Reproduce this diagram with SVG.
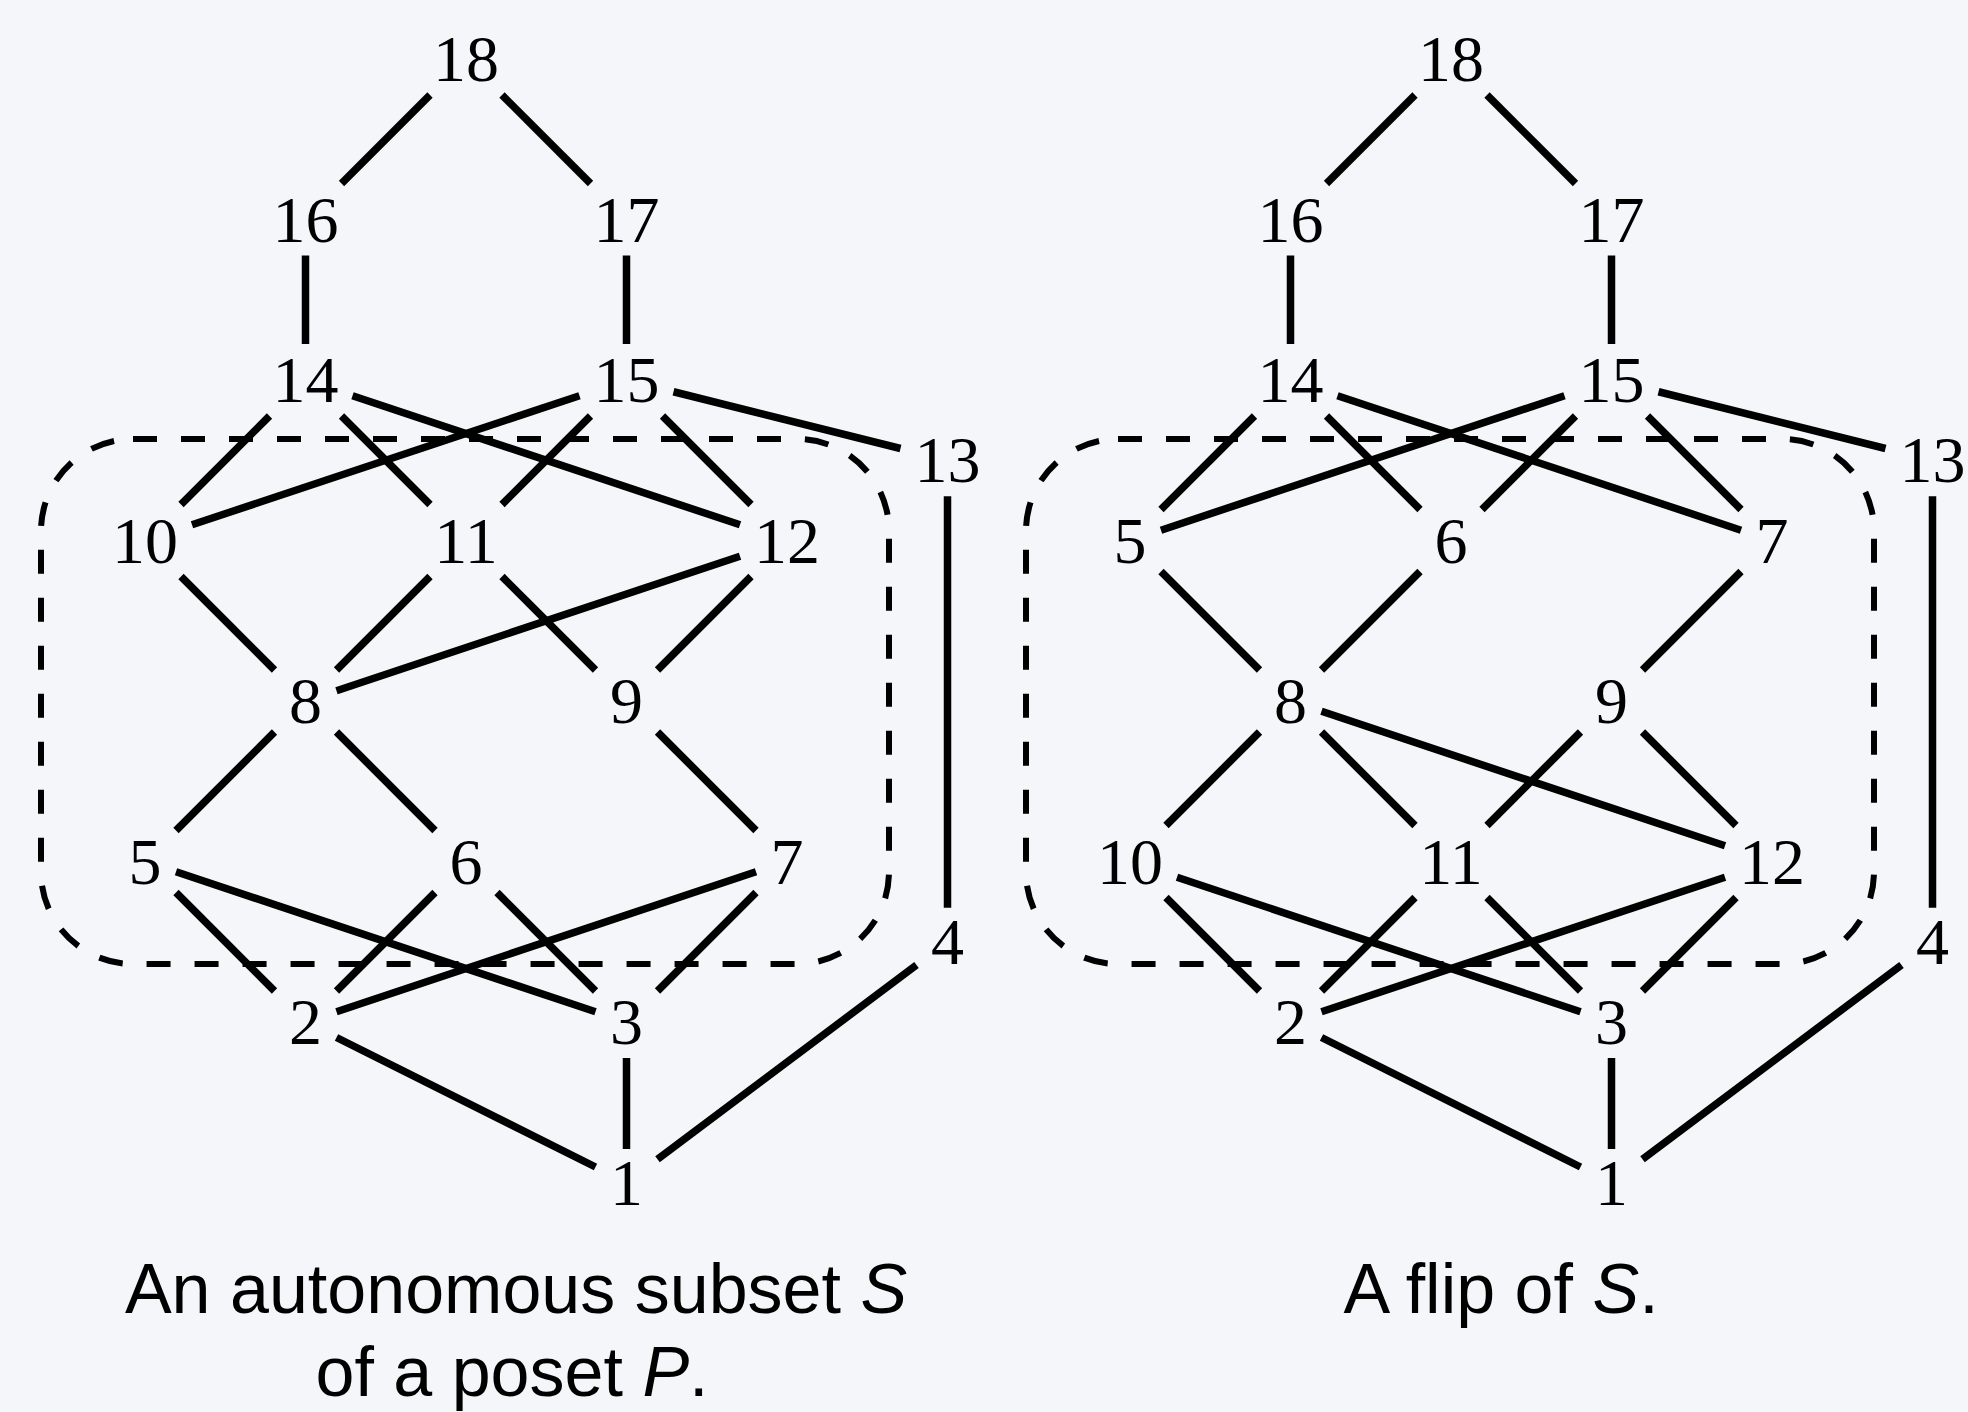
<svg xmlns="http://www.w3.org/2000/svg" width="1968" height="1412" viewBox="0 0 1968 1412">
<style>
.bg{fill:#f5f6fa}
.e line{stroke:#000;stroke-width:7.5;stroke-linecap:butt}
.box{fill:none;stroke:#000;stroke-width:6;stroke-dasharray:24 24}
.n text{font-family:"Liberation Serif","Times New Roman",serif;font-size:66px;text-anchor:middle;fill:#000}
.cap{font-family:"Liberation Sans",Arial,sans-serif;font-size:70px;text-anchor:middle;fill:#000}
</style>
<rect class="bg" x="0" y="0" width="1968" height="1412"/>

<!-- LEFT DIAGRAM -->
<g id="left">
<rect class="box" x="41" y="439" width="848" height="525" rx="92" ry="92"/>
<g id="left-edges" class="e">
<line x1="430" y1="95" x2="341.5" y2="183.5"/>
<line x1="502" y1="95" x2="590.5" y2="183.5"/>
<line x1="305.5" y1="255.5" x2="305.5" y2="344"/>
<line x1="626.5" y1="255.5" x2="626.5" y2="344"/>
<line x1="269.5" y1="416" x2="181" y2="504.5"/>
<line x1="341.5" y1="416" x2="430" y2="504.5"/>
<line x1="352.5" y1="395.7" x2="740" y2="524.8"/>
<line x1="579.5" y1="395.7" x2="192" y2="524.8"/>
<line x1="590.5" y1="416" x2="502" y2="504.5"/>
<line x1="662.5" y1="416" x2="751" y2="504.5"/>
<line x1="673.5" y1="391.75" x2="900.5" y2="448.5"/>
<line x1="947.5" y1="496.25" x2="947.5" y2="907.75"/>
<line x1="181" y1="576.5" x2="274.5" y2="670"/>
<line x1="430" y1="576.5" x2="336.5" y2="670"/>
<line x1="502" y1="576.5" x2="595.5" y2="670"/>
<line x1="740" y1="556.2" x2="336.5" y2="690.7"/>
<line x1="751" y1="576.5" x2="657.5" y2="670"/>
<line x1="274.5" y1="732" x2="176" y2="830.5"/>
<line x1="336.5" y1="732" x2="435" y2="830.5"/>
<line x1="657.5" y1="732" x2="756" y2="830.5"/>
<line x1="176" y1="892.5" x2="274.5" y2="991"/>
<line x1="176" y1="871.8" x2="595.5" y2="1011.7"/>
<line x1="435" y1="892.5" x2="336.5" y2="991"/>
<line x1="497" y1="892.5" x2="595.5" y2="991"/>
<line x1="756" y1="871.8" x2="336.5" y2="1011.7"/>
<line x1="756" y1="892.5" x2="657.5" y2="991"/>
<line x1="336.5" y1="1037.5" x2="595.5" y2="1167"/>
<line x1="626.5" y1="1058" x2="626.5" y2="1149"/>
<line x1="916.5" y1="965" x2="657.5" y2="1159.25"/>
</g>
<g class="n">
<g id="L18"><text x="466" y="81">18</text></g>
<g id="L16"><text x="305.5" y="241.5">16</text></g>
<g id="L17"><text x="626.5" y="241.5">17</text></g>
<g id="L14"><text x="305.5" y="402">14</text></g>
<g id="L15"><text x="626.5" y="402">15</text></g>
<g id="L13"><text x="947.5" y="482.25">13</text></g>
<g id="L10"><text x="145" y="562.5">10</text></g>
<g id="L11"><text x="466" y="562.5">11</text></g>
<g id="L12"><text x="787" y="562.5">12</text></g>
<g id="L8"><text x="305.5" y="723">8</text></g>
<g id="L9"><text x="626.5" y="723">9</text></g>
<g id="L5"><text x="145" y="883.5">5</text></g>
<g id="L6"><text x="466" y="883.5">6</text></g>
<g id="L7"><text x="787" y="883.5">7</text></g>
<g id="L4"><text x="947.5" y="963.75">4</text></g>
<g id="L2"><text x="305.5" y="1044">2</text></g>
<g id="L3"><text x="626.5" y="1044">3</text></g>
<g id="L1"><text x="626.5" y="1204.5">1</text></g>
</g>
<text class="cap" x="516" y="1313">An autonomous subset <tspan font-style="italic">S</tspan></text>
<text class="cap" x="512" y="1396">of a poset <tspan font-style="italic">P</tspan>.</text>
</g>

<!-- RIGHT DIAGRAM -->
<g id="right" transform="translate(985,0)">
<rect class="box" x="41" y="439" width="848" height="525" rx="92" ry="92"/>
<g id="right-edges" class="e">
<line x1="430" y1="95" x2="341.5" y2="183.5"/>
<line x1="502" y1="95" x2="590.5" y2="183.5"/>
<line x1="305.5" y1="255.5" x2="305.5" y2="344"/>
<line x1="626.5" y1="255.5" x2="626.5" y2="344"/>
<line x1="269.5" y1="416" x2="176" y2="509.5"/>
<line x1="341.5" y1="416" x2="435" y2="509.5"/>
<line x1="352.5" y1="395.7" x2="756" y2="530.2"/>
<line x1="579.5" y1="395.7" x2="176" y2="530.2"/>
<line x1="590.5" y1="416" x2="497" y2="509.5"/>
<line x1="662.5" y1="416" x2="756" y2="509.5"/>
<line x1="673.5" y1="391.75" x2="900.5" y2="448.5"/>
<line x1="947.5" y1="496.25" x2="947.5" y2="907.75"/>
<line x1="176" y1="571.5" x2="274.5" y2="670"/>
<line x1="435" y1="571.5" x2="336.5" y2="670"/>
<line x1="756" y1="571.5" x2="657.5" y2="670"/>
<line x1="274.5" y1="732" x2="181" y2="825.5"/>
<line x1="336.5" y1="732" x2="430" y2="825.5"/>
<line x1="336.5" y1="711.3" x2="740" y2="845.8"/>
<line x1="595.5" y1="732" x2="502" y2="825.5"/>
<line x1="657.5" y1="732" x2="751" y2="825.5"/>
<line x1="181" y1="897.5" x2="274.5" y2="991"/>
<line x1="192" y1="877.2" x2="595.5" y2="1011.7"/>
<line x1="430" y1="897.5" x2="336.5" y2="991"/>
<line x1="502" y1="897.5" x2="595.5" y2="991"/>
<line x1="740" y1="877.2" x2="336.5" y2="1011.7"/>
<line x1="751" y1="897.5" x2="657.5" y2="991"/>
<line x1="336.5" y1="1037.5" x2="595.5" y2="1167"/>
<line x1="626.5" y1="1058" x2="626.5" y2="1149"/>
<line x1="916.5" y1="965" x2="657.5" y2="1159.25"/>
</g>
<g class="n">
<g id="R18"><text x="466" y="81">18</text></g>
<g id="R16"><text x="305.5" y="241.5">16</text></g>
<g id="R17"><text x="626.5" y="241.5">17</text></g>
<g id="R14"><text x="305.5" y="402">14</text></g>
<g id="R15"><text x="626.5" y="402">15</text></g>
<g id="R13"><text x="947.5" y="482.25">13</text></g>
<g id="R5"><text x="145" y="562.5">5</text></g>
<g id="R6"><text x="466" y="562.5">6</text></g>
<g id="R7"><text x="787" y="562.5">7</text></g>
<g id="R8"><text x="305.5" y="723">8</text></g>
<g id="R9"><text x="626.5" y="723">9</text></g>
<g id="R10"><text x="145" y="883.5">10</text></g>
<g id="R11"><text x="466" y="883.5">11</text></g>
<g id="R12"><text x="787" y="883.5">12</text></g>
<g id="R4"><text x="947.5" y="963.75">4</text></g>
<g id="R2"><text x="305.5" y="1044">2</text></g>
<g id="R3"><text x="626.5" y="1044">3</text></g>
<g id="R1"><text x="626.5" y="1204.5">1</text></g>
</g>
<text class="cap" x="516" y="1313">A flip of <tspan font-style="italic">S</tspan>.</text>
</g>
</svg>
